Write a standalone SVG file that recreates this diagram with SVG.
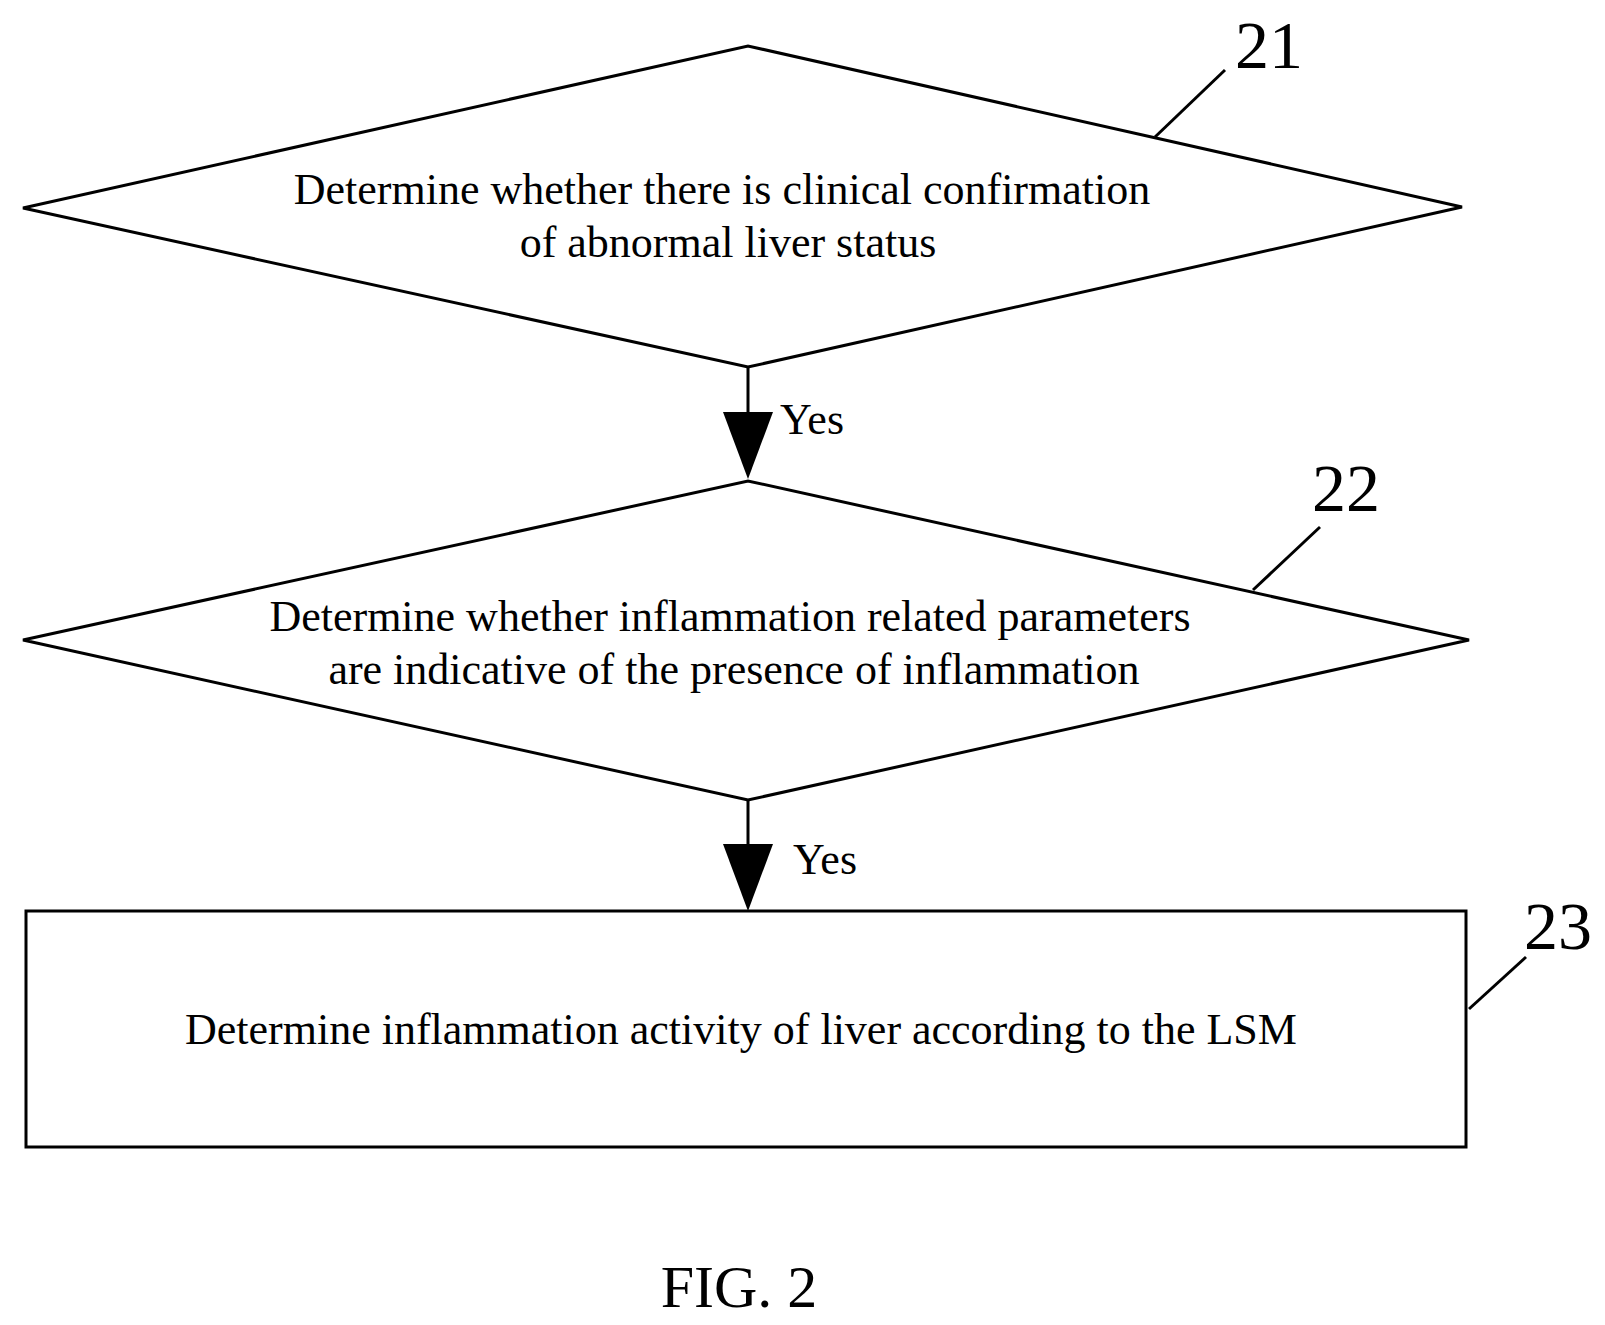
<svg xmlns="http://www.w3.org/2000/svg" width="1605" height="1325" viewBox="0 0 1605 1325">
<style>
.s{fill:none;stroke:#000;stroke-width:3}
.t{font-family:"Liberation Serif",serif;font-size:44px;text-anchor:middle;fill:#000}
.n{font-family:"Liberation Serif",serif;font-size:68px;fill:#000}
</style>
<rect width="1605" height="1325" fill="#fff"/>
<g id="n21"><polygon class="s" points="23,208 748,46 1462,207 748,367"/>
<text class="t" x="722" y="204">Determine whether there is clinical confirmation</text>
<text class="t" x="728" y="257">of abnormal liver status</text>
<line class="s" x1="1155" y1="137" x2="1225" y2="70"/><text class="n" x="1235" y="68">21</text></g>
<g id="n22"><polygon class="s" points="23,640 748,481 1469,640 748,800"/>
<text class="t" x="730" y="631">Determine whether inflammation related parameters</text>
<text class="t" x="734" y="684">are indicative of the presence of inflammation</text>
<line class="s" x1="1253" y1="590" x2="1320" y2="527"/><text class="n" x="1312" y="511">22</text></g>
<g id="n23"><rect class="s" x="26" y="911" width="1440" height="236"/>
<text class="t" x="741" y="1044">Determine inflammation activity of liver according to the LSM</text>
<line class="s" x1="1469" y1="1009" x2="1526" y2="957"/><text class="n" x="1524" y="949">23</text></g>
<g id="connectors">
<line class="s" x1="748" y1="367" x2="748" y2="415"/><polygon points="723,412 773,412 748,479"/>
<text class="t" x="812" y="434">Yes</text>
<line class="s" x1="748" y1="800" x2="748" y2="848"/><polygon points="723,844 773,844 748,911"/>
<text class="t" x="825" y="874">Yes</text>
</g>
<text x="739" y="1307" style="font-family:'Liberation Serif',serif;font-size:60px;text-anchor:middle">FIG. 2</text>
</svg>
